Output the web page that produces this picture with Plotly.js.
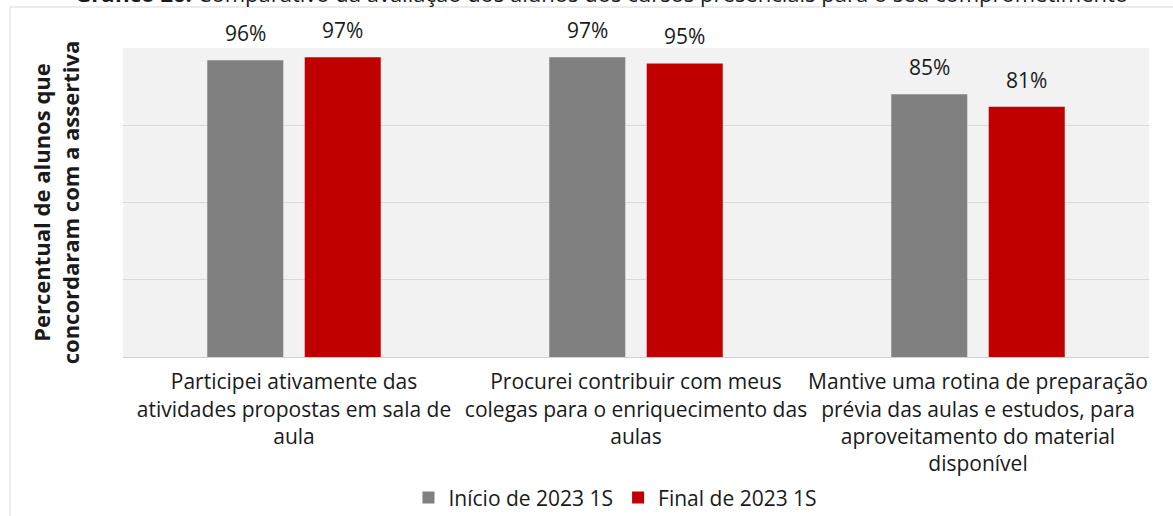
<!DOCTYPE html>
<html>
<head>
<meta charset="utf-8">
<script src="https://cdn.plot.ly/plotly-3.0.1.min.js"></script>
<style>
  html, body { margin: 0; padding: 0; background: #fff; }
  #myDiv { width: 1173px; height: 516px; }
</style>
</head>
<body>
<div id="myDiv"></div>
<script>
// categories (line breaks as in the chart)
const categories = [
	'Participei ativamente das<br>atividades propostas em sala de<br>aula',
	'Procurei contribuir com meus<br>colegas para o enriquecimento das<br>aulas',
	'Mantive uma rotina de preparação<br>prévia das aulas e estudos, para<br>aproveitamento do material<br>disponível'
]

// series
const values_inicio = [0.96, 0.97, 0.85]
const values_final  = [0.97, 0.95, 0.81]
const seriesNames   = ['Início de 2023 1S', 'Final de 2023 1S']
const seriesColors  = ['#808080', '#c00000']

const font = '"Open Sans", "Noto Sans", sans-serif'

const inicio = {x:categories, y:values_inicio, name:seriesNames[0], type:'bar', marker:{color:seriesColors[0]}, hoverinfo:'none'}
const final  = {x:categories, y:values_final,  name:seriesNames[1], type:'bar', marker:{color:seriesColors[1]}, hoverinfo:'none'}

// data labels above each bar
let labels = []
const allValues = [values_inicio, values_final]
for(let s = 0; s < allValues.length; s++) {
	for(let i = 0; i < categories.length; i++) {
		labels.push({
			x: categories[i], y: allValues[s][i], xref:'x', yref:'y',
			xshift: s == 0 ? -48.5 : 48.5, yshift: 11,
			yanchor:'bottom', showarrow:false,
			text: Math.round(allValues[s][i] * 100) + '%',
			font:{family:font, size:21, color:'#1a1a1a'}
		})
	}
}

const layout = {
	width: 1173,
	height: 516,
	margin: {l:123, r:24, t:48, b:159},
	paper_bgcolor: '#ffffff',
	plot_bgcolor: '#f2f2f2',
	font: {family:font, color:'#1a1a1a'},
	title: {
		text: '<b>Gráfico 26:</b> Comparativo da avaliação dos alunos dos cursos presenciais para o seu comprometimento',
		font: {family:font, size:22, color:'#1a1a1a'},
		x: 0.513, xanchor:'center',
		y: 0.996, yanchor:'bottom', yref:'container'
	},
	barmode: 'group',
	bargap: 0.43,
	bargroupgap: 0.22,
	showlegend: true,
	legend: {
		orientation:'h', x:0.48, xanchor:'center',
		yref:'container', y:0.035, yanchor:'middle',
		font:{family:font, size:21, color:'#1a1a1a'}, itemwidth:30
	},
	xaxis: {
		tickfont:{family:font, size:21, color:'#1a1a1a'},
		tickangle: 0,
		ticks:'', showline:true, linecolor:'#d0d0d0', linewidth:1,
		ticklabelstandoff: 6, automargin:false, fixedrange:true
	},
	yaxis: {
		range:[0, 1], dtick:0.25, showticklabels:false,
		gridcolor:'#d9d9d9', zeroline:false, automargin:false, fixedrange:true,
		title: {
			text:'<b>Percentual de alunos que<br>concordaram com a assertiva</b>',
			font:{family:font, size:22, color:'#1a1a1a'},
			standoff: 36
		}
	},
	shapes: [
		// outer chart frame
		{type:'rect', xref:'paper', yref:'paper', x0:-0.1101, x1:1.1, y0:-0.7, y1:1.1327,
		 line:{color:'#d9d9d9', width:1}, fillcolor:'rgba(0,0,0,0)', layer:'below'}
	],
	annotations: labels
}

const config = {
	displayModeBar: false,
	staticPlot: true
}

Plotly.newPlot('myDiv', [inicio, final], layout, config)
</script>
</body>
</html>
